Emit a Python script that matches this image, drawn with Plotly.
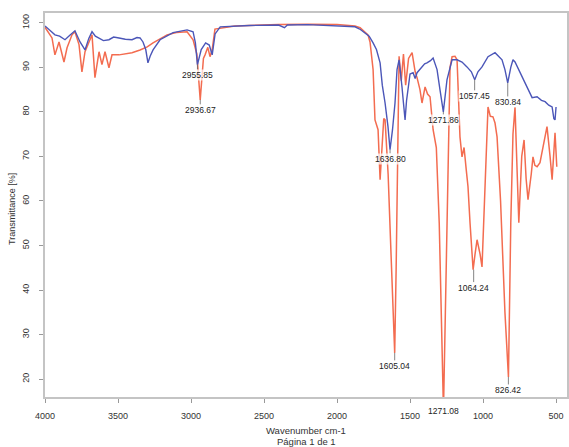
import plotly.graph_objects as go

# Sample A (blue)
blue_wn = [4000, 3966, 3932, 3900, 3863, 3830, 3795, 3760, 3726, 3700, 3678, 3655, 3630, 3600, 3562, 3530,
           3493, 3450, 3404, 3370, 3349, 3329, 3310, 3295, 3280, 3260, 3212, 3123, 3027, 2986, 2970, 2956,
           2930, 2900, 2875, 2855, 2835, 2800, 2600, 2400, 2360, 2340, 2200, 2000, 1900, 1877, 1840, 1808,
           1780, 1753, 1730, 1705, 1690, 1671, 1651, 1637, 1620, 1603, 1589, 1575, 1565, 1555, 1545, 1534,
           1524, 1514, 1500, 1479, 1465, 1452, 1435, 1418, 1400, 1384, 1360, 1342, 1315, 1295, 1272, 1247,
           1212, 1178, 1144, 1110, 1080, 1057, 1035, 1007, 966, 918, 870, 850, 831, 810, 795, 781, 750,
           712, 690, 664, 630, 600, 575, 550, 527, 515, 507, 500]
blue_T = [99.3, 98.4, 97.3, 97.0, 96.2, 97.2, 98.2, 95.7, 93.9, 96.5, 98.0, 97.0, 96.6, 96.0, 96.2, 96.8,
          96.6, 96.3, 96.2, 96.7, 96.6, 95.7, 94.0, 91.0, 92.5, 93.9, 96.2, 97.8, 98.4, 98.0, 95.5, 90.6,
          94.0, 95.5, 95.0, 92.8, 97.5, 99.1, 99.4, 99.5, 98.9, 99.5, 99.6, 99.3, 99.1, 99.1, 98.5, 97.8,
          97.0, 95.5, 94.0, 91.0, 86.0, 82.0, 76.7, 71.5, 76.0, 82.0, 89.5, 91.7, 89.0, 85.6, 82.0, 78.2,
          82.5, 85.6, 88.5, 88.8, 87.5, 88.8, 89.5, 90.1, 90.8, 91.0, 91.5, 92.1, 89.5, 85.0, 80.0, 87.2,
          91.7, 91.7, 91.2, 90.1, 89.0, 87.2, 89.0, 90.1, 92.4, 93.3, 91.7, 89.5, 86.5, 90.0, 91.7, 91.2, 89.0,
          86.5, 85.0, 83.2, 83.4, 82.6, 82.3, 81.5, 81.1, 78.5, 78.2, 81.1]

# Sample B (orange)
orange_wn = [4000, 3966, 3952, 3932, 3904, 3870, 3849, 3815, 3795, 3767, 3747, 3726, 3699, 3678, 3658, 3630,
             3610, 3589, 3562, 3541, 3493, 3450, 3404, 3349, 3300, 3260, 3212, 3164, 3100, 3027, 2986, 2960,
             2937, 2915, 2904, 2885, 2870, 2855, 2836, 2700, 2400, 2200, 2000, 1877, 1842, 1788, 1774, 1753,
             1740, 1719, 1705, 1692, 1680, 1671, 1650, 1630, 1615, 1605, 1595, 1585, 1575, 1560, 1545, 1530,
             1510, 1486, 1479, 1465, 1452, 1432, 1418, 1397, 1380, 1363, 1342, 1320, 1300, 1285, 1271, 1258,
             1240, 1226, 1212, 1192, 1178, 1158, 1144, 1130, 1115, 1103, 1089, 1068, 1055, 1041, 1020, 1007,
             990, 973, 966, 950, 932, 918, 904, 880, 850, 826, 810, 795, 781, 770, 755, 735, 719, 705, 692,
             670, 658, 645, 630, 610, 590, 562, 541, 527, 507, 495]
orange_T = [99.0, 97.5, 96.6, 92.8, 95.7, 91.2, 94.4, 97.3, 98.0, 95.1, 89.0, 93.5, 95.7, 97.3, 87.7, 93.5,
            90.6, 93.5, 89.9, 92.8, 92.8, 93.0, 93.3, 93.9, 94.6, 95.5, 96.4, 97.3, 97.8, 98.0, 96.2, 93.0,
            82.7, 92.0, 92.8, 94.5, 92.4, 94.0, 98.6, 99.3, 99.6, 99.7, 99.6, 99.3, 98.9, 97.3, 95.7, 89.5,
            78.2, 76.0, 64.8, 72.0, 78.5, 78.2, 66.0, 48.0, 35.0, 25.9, 45.0, 75.0, 92.5, 87.0, 93.0, 86.0,
            92.0, 93.3, 92.0, 89.0, 87.7, 85.0, 82.0, 85.6, 84.0, 83.4, 76.0, 72.0, 55.0, 30.0, 13.0, 35.0,
            70.0, 90.0, 92.4, 92.5, 91.7, 74.4, 69.9, 72.0, 67.0, 63.2, 55.0, 44.6, 48.0, 51.3, 48.0, 45.2,
            60.0, 74.4, 81.1, 79.0, 78.9, 77.5, 74.4, 60.0, 35.0, 20.5, 55.0, 75.0, 81.1, 70.0, 55.1, 70.0,
            73.7, 65.0, 60.3, 66.0, 69.9, 68.0, 67.7, 68.6, 72.0, 76.7, 70.0, 64.8, 75.3, 67.7]

# Peak labels
blue_peak_wn = [2955.85, 1636.80, 1271.86, 1057.45, 830.84]
blue_peak_T = [90.6, 71.5, 80.0, 87.2, 86.5]
blue_peak_ay = [10, 9, 8, 16, 19]
orange_peak_wn = [2936.67, 1605.04, 1064.24, 826.42]
orange_peak_T = [82.7, 25.9, 44.6, 20.5]
orange_peak_ay = [10, 13, 18, 13]
below_label_wn = [1271.08]
below_label_T = [12.9]

x_ticks = [4000, 3500, 3000, 2500, 2000, 1500, 1000, 500]
y_ticks = [20, 30, 40, 50, 60, 70, 80, 90, 100]
Y_RANGE = [16, 102.2]

BLUE = "#4b56b8"
ORANGE = "#f36c50"
FONT = "Liberation Sans"

fig = go.Figure()
fig.add_trace(go.Scatter(x=orange_wn, y=orange_T, mode="lines",
                         line=dict(color=ORANGE, width=1.5), showlegend=False))
fig.add_trace(go.Scatter(x=blue_wn, y=blue_T, mode="lines",
                         line=dict(color=BLUE, width=1.4), showlegend=False))

annots = []
for wn, t, ay in zip(blue_peak_wn + orange_peak_wn, blue_peak_T + orange_peak_T,
                     blue_peak_ay + orange_peak_ay):
    annots.append(dict(x=wn, y=t, xref="x", yref="y", text=f"{wn:.2f}",
                       showarrow=True, arrowhead=0, arrowwidth=0.8, arrowcolor="#666",
                       ax=0, ay=ay, font=dict(size=8.5, color="#222", family=FONT),
                       bgcolor="rgba(255,255,255,0.7)", borderpad=0))
# label whose peak lies below the visible range: place it in paper units below the axis
for wn, t in zip(below_label_wn, below_label_T):
    annots.append(dict(x=wn, y=(t - Y_RANGE[0]) / (Y_RANGE[1] - Y_RANGE[0]), xref="x", yref="paper",
                       text=f"{wn:.2f}", showarrow=False, yanchor="middle",
                       font=dict(size=8.5, color="#222", family=FONT)))
annots.append(dict(x=0.5, y=-0.086, xref="paper", yref="paper", xanchor="center", yanchor="middle",
                   text="Wavenumber cm-1", showarrow=False,
                   font=dict(size=9.5, color="#333", family=FONT)))
annots.append(dict(x=0.5, y=-0.117, xref="paper", yref="paper", xanchor="center", yanchor="middle",
                   text="Página 1 de 1", showarrow=False,
                   font=dict(size=9.5, color="#333", family=FONT)))
annots.append(dict(x=-0.063, y=0.49, xref="paper", yref="paper", xanchor="center", yanchor="middle",
                   text="Transmittance [%]", textangle=-90, showarrow=False,
                   font=dict(size=9, color="#333", family=FONT)))

fig.update_layout(
    width=569, height=447,
    margin=dict(l=45, r=2, t=13, b=50, autoexpand=False),
    paper_bgcolor="white", plot_bgcolor="white",
    font=dict(family=FONT, size=9, color="#333"),
    annotations=annots,
    xaxis=dict(range=[4000, 425], tickvals=x_ticks, ticktext=[str(v) for v in x_ticks],
               showgrid=False, zeroline=False, showline=True, mirror=True, automargin=False,
               linecolor="#c4c4c4", linewidth=2, ticks="outside", ticklen=4, tickcolor="#999",
               tickfont=dict(size=9, color="#333"), ticklabelstandoff=5),
    yaxis=dict(range=Y_RANGE, tickvals=y_ticks, ticktext=[str(v) for v in y_ticks],
               showgrid=False, zeroline=False, showline=True, mirror=True, automargin=False,
               linecolor="#c4c4c4", linewidth=2, ticks="outside", ticklen=4, tickcolor="#999",
               tickangle=-90, tickfont=dict(size=9, color="#333"), ticklabelstandoff=6),
)

fig.write_html("out.html", config={"displayModeBar": False},
               post_script="document.body.style.margin='0';document.body.style.overflow='hidden';")
